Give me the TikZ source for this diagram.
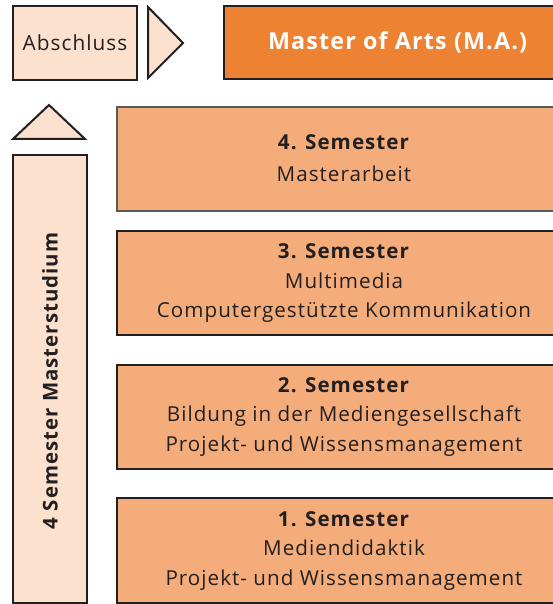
\documentclass[tikz,border=0pt]{standalone}
\usepackage{fontspec}
\setmainfont[LetterSpace=5]{Open Sans}
\definecolor{ink}{HTML}{231F20}
\definecolor{pale}{HTML}{FCE1CE}
\definecolor{sem}{HTML}{F4AD7A}
\definecolor{ma}{HTML}{ED8232}
\definecolor{grayb}{HTML}{5A5A5A}
\begin{document}
\begin{tikzpicture}[x=1pt,y=-1pt,
  box/.style={draw=ink,line width=2pt,fill=#1,inner sep=0pt},
  semtext/.style={align=center,text=ink,font=\fontsize{20.6}{29.5}\selectfont},
  tri/.style={draw=ink,line width=2pt,fill=pale,line join=miter}]
\useasboundingbox (0,0) rectangle (553,604);
\clip (0,0) rectangle (553,604);
% Abschluss
\node[box=pale,minimum width=124pt,minimum height=74pt,text=ink,font=\fontsize{20.8}{22}\selectfont] (abs) at (75,43) {Abschluss};
\draw[tri] (148,7) -- (183,43) -- (148,78) -- cycle;
% Master
\node[box=ma,minimum width=347pt,minimum height=73pt,text=white,font=\bfseries\fontsize{23.3}{26}\selectfont] (ma) at (397.5,42.5) {Master of Arts (M.A.)};
% up triangle
\draw[tri] (13,139) -- (49,105) -- (85,139) -- cycle;
% tall box
\node[box=pale,minimum width=74pt,minimum height=448pt] (tall) at (50,379) {};
\node[rotate=90,text=ink,font=\bfseries\fontsize{20.4}{24}\selectfont] (tallt) at (50,381) {4 Semester Masterstudium};
% semesters
\node[box=sem,draw=grayb,minimum width=454pt,minimum height=104pt] (s4) at (344,159) {};
\node[semtext,font=\fontsize{20.6}{32}\selectfont] (s4t) at (344,158) {\textbf{4. Semester}\\Masterarbeit};
\node[box=sem,minimum width=454pt,minimum height=104pt] (s3) at (344,283) {};
\node[semtext] (s3t) at (344,283.5) {\textbf{3. Semester}\\Multimedia\\Computergestützte Kommunikation};
\node[box=sem,minimum width=454pt,minimum height=104pt] (s2) at (344,417) {};
\node[semtext] (s2t) at (344,417) {\textbf{2. Semester}\\Bildung in der Mediengesellschaft\\Projekt- und Wissensmanagement};
\node[box=sem,minimum width=454pt,minimum height=105pt] (s1) at (344,550.5) {};
\node[semtext] (s1t) at (344,551) {\textbf{1. Semester}\\Mediendidaktik\\Projekt- und Wissensmanagement};
\end{tikzpicture}
\end{document}
